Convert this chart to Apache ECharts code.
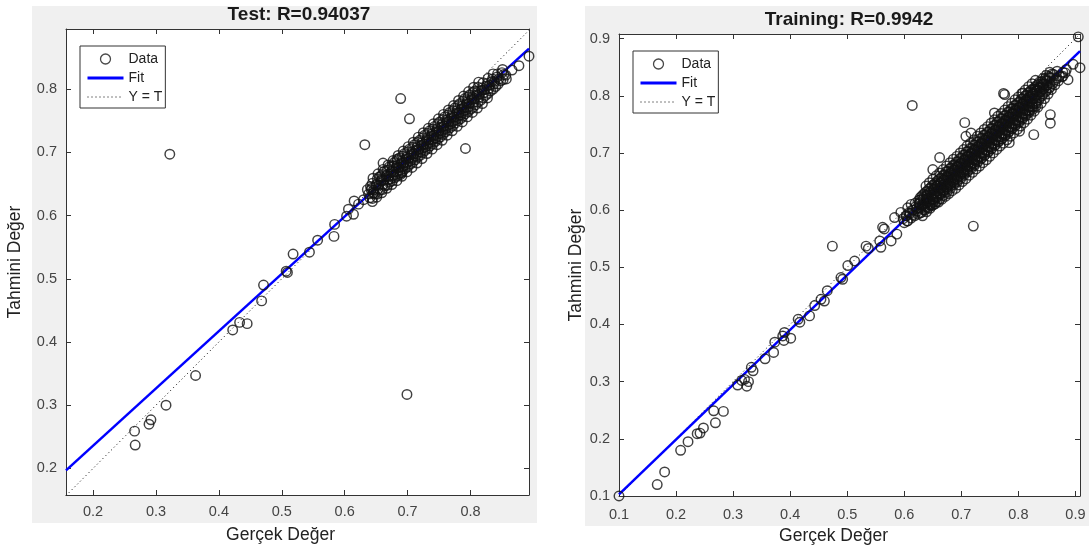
<!DOCTYPE html>
<html><head><meta charset="utf-8">
<script src="https://cdn.jsdelivr.net/npm/echarts@6/dist/echarts.min.js"></script>
<style>html,body{margin:0;padding:0;background:#fff}#c{width:1089px;height:550px}</style>
</head><body><div id="c"></div>
<script>
const testTitle = 'Test: R=0.94037';
const trainTitle = 'Training: R=0.9942';
const xName = 'Gerçek Değer';
const yName = 'Tahmini Değer';
const legendNames = ['Data', 'Fit', 'Y = T'];

const testXRange = [0.157, 0.893];
const testYRange = [0.158, 0.895];
const trainXRange = [0.1, 0.908];
const trainYRange = [0.1, 0.908];
const testTicks = [0.2, 0.3, 0.4, 0.5, 0.6, 0.7, 0.8];
const trainTicks = [0.1, 0.2, 0.3, 0.4, 0.5, 0.6, 0.7, 0.8, 0.9];

const testFit = [[0.157, 0.197], [0.893, 0.864]];
const testIdentity = [[0.157, 0.157], [0.893, 0.893]];
const trainFit = [[0.1, 0.103], [0.908, 0.878]];
const trainIdentity = [[0.1, 0.1], [0.908, 0.908]];

const testOutliers = [
[0.195,0.157],[0.266,0.259],[0.267,0.237],[0.289,0.270],[0.292,0.277],[0.316,0.300],[0.322,0.697],[0.363,0.347],
[0.422,0.419],[0.433,0.431],[0.445,0.429],[0.468,0.465],[0.471,0.490],[0.507,0.512],[0.509,0.510],[0.518,0.539],
[0.544,0.542],[0.557,0.561],[0.583,0.567],[0.584,0.586],[0.603,0.599],[0.606,0.610],[0.614,0.602],[0.615,0.623],
[0.622,0.618],[0.630,0.625],[0.636,0.641],[0.641,0.646],[0.646,0.636],[0.661,0.683],[0.632,0.712],[0.689,0.785],
[0.703,0.753],[0.792,0.706],[0.699,0.317],[0.893,0.852],[0.877,0.837],[0.866,0.830],[0.857,0.816],[0.657,0.662],
[0.678,0.678],[0.683,0.689],[0.689,0.665],[0.691,0.668]
];
const testCluster = [
[0.640,0.628],[0.642,0.641],[0.638,0.634],[0.644,0.622],
[0.648,0.634],[0.650,0.648],[0.646,0.640],[0.651,0.629],
[0.656,0.640],[0.658,0.655],[0.654,0.648],[0.659,0.636],[0.655,0.661],
[0.664,0.647],[0.666,0.662],[0.662,0.656],[0.667,0.643],[0.663,0.670],
[0.672,0.653],[0.674,0.669],[0.670,0.662],[0.675,0.649],[0.671,0.677],[0.673,0.658],
[0.680,0.660],[0.682,0.676],[0.678,0.669],[0.683,0.655],[0.679,0.684],[0.681,0.665],
[0.688,0.667],[0.690,0.683],[0.686,0.676],[0.691,0.662],[0.687,0.691],[0.689,0.672],
[0.696,0.674],[0.698,0.690],[0.694,0.684],[0.699,0.669],[0.695,0.698],[0.697,0.680],
[0.704,0.681],[0.706,0.697],[0.702,0.691],[0.707,0.676],[0.703,0.705],[0.705,0.687],
[0.712,0.688],[0.714,0.704],[0.710,0.698],[0.715,0.683],[0.711,0.712],[0.713,0.694],
[0.720,0.695],[0.722,0.711],[0.718,0.705],[0.723,0.690],[0.719,0.719],[0.721,0.701],
[0.728,0.703],[0.730,0.719],[0.726,0.713],[0.731,0.698],[0.727,0.727],[0.729,0.709],
[0.736,0.710],[0.738,0.726],[0.734,0.720],[0.739,0.705],[0.735,0.734],[0.737,0.716],
[0.744,0.717],[0.746,0.733],[0.742,0.727],[0.747,0.712],[0.743,0.741],[0.745,0.723],
[0.752,0.724],[0.754,0.740],[0.750,0.734],[0.755,0.719],[0.751,0.748],[0.753,0.730],
[0.760,0.732],[0.762,0.748],[0.758,0.742],[0.763,0.727],[0.759,0.756],[0.761,0.738],
[0.768,0.739],[0.770,0.755],[0.766,0.749],[0.771,0.734],[0.767,0.763],[0.769,0.745],
[0.776,0.746],[0.778,0.762],[0.774,0.756],[0.779,0.741],[0.775,0.770],[0.777,0.752],
[0.784,0.753],[0.786,0.769],[0.782,0.763],[0.787,0.748],[0.783,0.777],[0.785,0.759],
[0.792,0.761],[0.794,0.777],[0.790,0.771],[0.795,0.756],[0.791,0.785],[0.793,0.767],
[0.800,0.768],[0.802,0.784],[0.798,0.778],[0.803,0.763],[0.799,0.791],
[0.808,0.775],[0.810,0.791],[0.806,0.785],[0.811,0.770],[0.807,0.797],
[0.816,0.782],[0.818,0.798],[0.814,0.792],[0.819,0.777],
[0.824,0.790],[0.826,0.805],[0.822,0.799],[0.827,0.786],
[0.832,0.797],[0.834,0.812],[0.830,0.806],
[0.840,0.804],[0.842,0.819],[0.838,0.812],
[0.848,0.813],[0.850,0.826],[0.856,0.822]
];
const testCluster2 = [
[0.644,0.627],[0.645,0.635],[0.643,0.643],[0.644,0.651],[0.645,0.659],
[0.652,0.634],[0.653,0.642],[0.651,0.650],[0.652,0.658],[0.653,0.666],
[0.660,0.641],[0.661,0.649],[0.659,0.657],[0.660,0.665],[0.661,0.673],
[0.668,0.648],[0.669,0.656],[0.667,0.664],[0.668,0.672],[0.669,0.680],
[0.676,0.655],[0.677,0.663],[0.675,0.671],[0.676,0.679],[0.677,0.687],
[0.684,0.663],[0.685,0.671],[0.683,0.679],[0.684,0.687],[0.685,0.695],
[0.692,0.670],[0.693,0.678],[0.691,0.686],[0.692,0.694],[0.693,0.702],
[0.700,0.677],[0.701,0.685],[0.699,0.693],[0.700,0.701],[0.701,0.709],
[0.708,0.684],[0.709,0.692],[0.707,0.700],[0.708,0.708],[0.709,0.716],
[0.716,0.692],[0.717,0.700],[0.715,0.708],[0.716,0.716],[0.717,0.724],
[0.724,0.699],[0.725,0.707],[0.723,0.715],[0.724,0.723],[0.725,0.731],
[0.732,0.706],[0.733,0.714],[0.731,0.722],[0.732,0.730],[0.733,0.738],
[0.740,0.713],[0.741,0.721],[0.739,0.729],[0.740,0.737],[0.741,0.745],
[0.748,0.721],[0.749,0.729],[0.747,0.737],[0.748,0.745],[0.749,0.753],
[0.756,0.728],[0.757,0.736],[0.755,0.744],[0.756,0.752],[0.757,0.760],
[0.764,0.735],[0.765,0.743],[0.763,0.751],[0.764,0.759],[0.765,0.767],
[0.772,0.742],[0.773,0.750],[0.771,0.758],[0.772,0.766],[0.773,0.774],
[0.780,0.750],[0.781,0.758],[0.779,0.766],[0.780,0.774],[0.781,0.782],
[0.788,0.757],[0.789,0.765],[0.787,0.773],[0.788,0.781],[0.789,0.789],
[0.796,0.764],[0.797,0.772],[0.795,0.780],[0.796,0.788],[0.797,0.796],
[0.804,0.771],[0.805,0.779],[0.803,0.787],[0.804,0.795],[0.805,0.803],
[0.812,0.779],[0.813,0.787],[0.811,0.795],[0.812,0.803],[0.813,0.811],
[0.820,0.786],[0.821,0.794],[0.819,0.802],[0.820,0.810],
[0.828,0.793],[0.829,0.801],[0.827,0.809],[0.828,0.817],
[0.836,0.800],[0.837,0.808],[0.835,0.816],[0.836,0.824],
[0.844,0.808],[0.845,0.816],[0.843,0.824],
[0.852,0.815],[0.853,0.823],[0.851,0.831]
];

const trainSparse = [
[0.100,0.100],[0.167,0.120],[0.180,0.142],[0.208,0.180],[0.221,0.195],[0.237,0.209],[0.242,0.210],[0.248,0.219],
[0.269,0.228],[0.266,0.249],[0.283,0.248],[0.308,0.294],[0.324,0.292],[0.315,0.302],[0.327,0.300],[0.320,0.304],
[0.335,0.319],[0.332,0.325],[0.356,0.340],[0.371,0.351],[0.373,0.369],[0.387,0.380],[0.389,0.372],[0.401,0.376],
[0.390,0.386],[0.417,0.404],[0.414,0.409],[0.434,0.415],[0.443,0.433],[0.454,0.444],[0.460,0.441],[0.465,0.459],
[0.474,0.537],[0.489,0.482],[0.492,0.479],[0.501,0.503],[0.513,0.511],[0.533,0.537],[0.537,0.533],[0.557,0.546],
[0.559,0.535],[0.577,0.546],[0.587,0.558],[0.565,0.567],[0.562,0.570],[0.583,0.587],[0.594,0.596],[0.606,0.604],
[0.612,0.610],[0.605,0.581],[0.632,0.590],[0.662,0.692],[0.650,0.671],[0.721,0.572],[0.614,0.783],[0.706,0.753],
[0.708,0.729],[0.717,0.735],[0.758,0.770],[0.776,0.802],[0.784,0.718],[0.802,0.738],[0.827,0.732],[0.856,0.767],
[0.856,0.752],[0.896,0.855],[0.908,0.849],[0.905,0.903],[0.887,0.828],[0.878,0.834],[0.867,0.831],[0.808,0.805],
[0.829,0.811],[0.774,0.804]
];
const trainBand = [
[0.600,0.578],[0.603,0.590],[0.598,0.585],
[0.606,0.581],[0.608,0.595],[0.604,0.590],
[0.612,0.586],[0.614,0.600],[0.610,0.594],[0.615,0.592],
[0.618,0.590],[0.620,0.606],[0.616,0.600],[0.619,0.612],
[0.624,0.593],[0.626,0.611],[0.622,0.603],[0.625,0.617],[0.623,0.598],
[0.630,0.596],[0.632,0.608],[0.628,0.618],[0.631,0.625],[0.629,0.603],
[0.636,0.600],[0.638,0.612],[0.634,0.622],[0.637,0.631],[0.635,0.607],[0.639,0.619],
[0.642,0.604],[0.644,0.615],[0.640,0.627],[0.643,0.637],[0.641,0.621],[0.645,0.609],
[0.648,0.608],[0.650,0.620],[0.646,0.632],[0.649,0.643],[0.647,0.626],[0.651,0.614],
[0.654,0.611],[0.656,0.624],[0.652,0.636],[0.655,0.648],[0.653,0.630],[0.657,0.642],[0.651,0.619],
[0.660,0.614],[0.662,0.628],[0.658,0.642],[0.661,0.654],[0.659,0.634],[0.663,0.647],[0.657,0.622],[0.664,0.638],
[0.666,0.619],[0.668,0.633],[0.664,0.648],[0.667,0.660],[0.665,0.640],[0.669,0.652],[0.663,0.627],
[0.672,0.624],[0.674,0.639],[0.670,0.653],[0.673,0.667],[0.671,0.646],[0.675,0.658],[0.669,0.632],[0.676,0.644],
[0.678,0.629],[0.680,0.645],[0.676,0.659],[0.679,0.672],[0.677,0.652],[0.681,0.664],[0.675,0.637],
[0.684,0.634],[0.686,0.650],[0.682,0.665],[0.685,0.678],[0.683,0.657],[0.687,0.670],[0.681,0.642],[0.688,0.656],
[0.690,0.638],[0.692,0.655],[0.688,0.670],[0.691,0.684],[0.689,0.662],[0.693,0.676],[0.687,0.647],
[0.696,0.644],[0.698,0.661],[0.694,0.676],[0.697,0.690],[0.695,0.668],[0.699,0.682],[0.693,0.652],[0.700,0.667],
[0.702,0.650],[0.704,0.667],[0.700,0.682],[0.703,0.696],[0.701,0.674],[0.705,0.688],[0.699,0.658],
[0.708,0.655],[0.710,0.672],[0.706,0.688],[0.709,0.702],[0.707,0.680],[0.711,0.694],[0.705,0.664],[0.712,0.679],
[0.714,0.661],[0.716,0.678],[0.712,0.694],[0.715,0.708],[0.713,0.686],[0.717,0.700],[0.711,0.669],
[0.720,0.666],[0.722,0.683],[0.718,0.699],[0.721,0.714],[0.719,0.691],[0.723,0.706],[0.717,0.675],[0.724,0.690],
[0.726,0.672],[0.728,0.689],[0.724,0.705],[0.727,0.719],[0.725,0.697],[0.729,0.711],[0.723,0.680],
[0.732,0.677],[0.734,0.694],[0.730,0.711],[0.733,0.725],[0.731,0.703],[0.735,0.717],[0.729,0.686],[0.736,0.701],
[0.738,0.683],[0.740,0.700],[0.736,0.717],[0.739,0.731],[0.737,0.709],[0.741,0.723],[0.735,0.691],
[0.744,0.688],[0.746,0.705],[0.742,0.722],[0.745,0.736],[0.743,0.714],[0.747,0.728],[0.741,0.696],[0.748,0.712],
[0.750,0.694],[0.752,0.711],[0.748,0.728],[0.751,0.742],[0.749,0.720],[0.753,0.734],[0.747,0.702],
[0.756,0.700],[0.758,0.717],[0.754,0.734],[0.757,0.748],[0.755,0.726],[0.759,0.740],[0.753,0.708],[0.760,0.723],
[0.762,0.706],[0.764,0.723],[0.760,0.740],[0.763,0.754],[0.761,0.732],[0.765,0.746],[0.759,0.714],
[0.768,0.712],[0.770,0.729],[0.766,0.746],[0.769,0.760],[0.767,0.738],[0.771,0.752],[0.765,0.720],[0.772,0.735],
[0.774,0.717],[0.776,0.734],[0.772,0.751],[0.775,0.765],[0.773,0.743],[0.777,0.757],[0.771,0.725],
[0.780,0.723],[0.782,0.740],[0.778,0.757],[0.781,0.771],[0.779,0.749],[0.783,0.763],[0.777,0.731],[0.784,0.746],
[0.786,0.729],[0.788,0.746],[0.784,0.763],[0.787,0.777],[0.785,0.755],[0.789,0.769],[0.783,0.737],
[0.792,0.735],[0.794,0.752],[0.790,0.769],[0.793,0.783],[0.791,0.761],[0.795,0.775],[0.789,0.743],[0.796,0.758],
[0.798,0.741],[0.800,0.757],[0.796,0.774],[0.799,0.788],[0.797,0.766],[0.801,0.780],[0.795,0.749],
[0.804,0.747],[0.806,0.763],[0.802,0.780],[0.805,0.794],[0.803,0.772],[0.807,0.786],[0.801,0.755],[0.808,0.769],
[0.810,0.753],[0.812,0.769],[0.808,0.786],[0.811,0.799],[0.809,0.778],[0.813,0.792],[0.807,0.761],
[0.816,0.759],[0.818,0.775],[0.814,0.792],[0.817,0.805],[0.815,0.784],[0.819,0.797],[0.813,0.767],[0.820,0.781],
[0.822,0.766],[0.824,0.781],[0.820,0.797],[0.823,0.810],[0.821,0.790],[0.825,0.803],[0.819,0.774],
[0.828,0.773],[0.830,0.787],[0.826,0.802],[0.829,0.815],[0.827,0.795],[0.831,0.808],[0.825,0.780],
[0.834,0.780],[0.836,0.793],[0.832,0.808],[0.835,0.820],[0.833,0.801],[0.837,0.814],[0.831,0.787],
[0.840,0.787],[0.842,0.800],[0.838,0.814],[0.841,0.825],[0.839,0.807],[0.843,0.819],
[0.846,0.795],[0.848,0.807],[0.844,0.820],[0.847,0.830],[0.845,0.813],
[0.852,0.803],[0.854,0.814],[0.850,0.826],[0.853,0.834],[0.851,0.819],
[0.858,0.811],[0.860,0.821],[0.856,0.831],[0.859,0.838],
[0.864,0.819],[0.866,0.828],[0.862,0.837],
[0.870,0.826],[0.872,0.835],[0.868,0.843],
[0.876,0.833],[0.878,0.841],
[0.882,0.840],[0.884,0.846]
];
const trainBand2 = [
[0.628,0.595],[0.626,0.604],[0.627,0.613],[0.628,0.622],
[0.634,0.601],[0.632,0.610],[0.633,0.619],[0.634,0.628],
[0.639,0.597],[0.640,0.606],[0.638,0.615],[0.639,0.624],[0.640,0.633],[0.638,0.642],
[0.645,0.603],[0.646,0.612],[0.644,0.621],[0.645,0.630],[0.646,0.639],[0.644,0.648],
[0.651,0.609],[0.652,0.618],[0.650,0.627],[0.651,0.636],[0.652,0.645],[0.650,0.654],
[0.657,0.615],[0.658,0.624],[0.656,0.633],[0.657,0.642],[0.658,0.651],[0.656,0.660],
[0.663,0.620],[0.664,0.629],[0.662,0.638],[0.663,0.647],[0.664,0.656],[0.662,0.665],
[0.669,0.626],[0.670,0.635],[0.668,0.644],[0.669,0.653],[0.670,0.662],[0.668,0.671],
[0.675,0.632],[0.676,0.641],[0.674,0.650],[0.675,0.659],[0.676,0.668],[0.674,0.677],
[0.681,0.638],[0.682,0.647],[0.680,0.656],[0.681,0.665],[0.682,0.674],[0.680,0.683],
[0.687,0.644],[0.688,0.653],[0.686,0.662],[0.687,0.671],[0.688,0.680],[0.686,0.689],
[0.693,0.649],[0.694,0.658],[0.692,0.667],[0.693,0.676],[0.694,0.685],[0.692,0.694],
[0.699,0.655],[0.700,0.664],[0.698,0.673],[0.699,0.682],[0.700,0.691],[0.698,0.700],
[0.705,0.661],[0.706,0.670],[0.704,0.679],[0.705,0.688],[0.706,0.697],[0.704,0.706],
[0.711,0.667],[0.712,0.676],[0.710,0.685],[0.711,0.694],[0.712,0.703],[0.710,0.712],
[0.717,0.672],[0.718,0.681],[0.716,0.690],[0.717,0.699],[0.718,0.708],[0.716,0.717],
[0.723,0.678],[0.724,0.687],[0.722,0.696],[0.723,0.705],[0.724,0.714],[0.722,0.723],
[0.729,0.684],[0.730,0.693],[0.728,0.702],[0.729,0.711],[0.730,0.720],[0.728,0.729],
[0.735,0.690],[0.736,0.699],[0.734,0.708],[0.735,0.717],[0.736,0.726],[0.734,0.735],
[0.741,0.696],[0.742,0.705],[0.740,0.714],[0.741,0.723],[0.742,0.732],[0.740,0.741],
[0.747,0.701],[0.748,0.710],[0.746,0.719],[0.747,0.728],[0.748,0.737],[0.746,0.746],
[0.753,0.707],[0.754,0.716],[0.752,0.725],[0.753,0.734],[0.754,0.743],[0.752,0.752],
[0.759,0.713],[0.760,0.722],[0.758,0.731],[0.759,0.740],[0.760,0.749],[0.758,0.758],
[0.765,0.719],[0.766,0.728],[0.764,0.737],[0.765,0.746],[0.766,0.755],[0.764,0.764],
[0.771,0.724],[0.772,0.733],[0.770,0.742],[0.771,0.751],[0.772,0.760],[0.770,0.769],
[0.777,0.730],[0.778,0.739],[0.776,0.748],[0.777,0.757],[0.778,0.766],[0.776,0.775],
[0.783,0.736],[0.784,0.745],[0.782,0.754],[0.783,0.763],[0.784,0.772],[0.782,0.781],
[0.789,0.742],[0.790,0.751],[0.788,0.760],[0.789,0.769],[0.790,0.778],[0.788,0.787],
[0.795,0.748],[0.796,0.757],[0.794,0.766],[0.795,0.775],[0.796,0.784],[0.794,0.793],
[0.801,0.753],[0.802,0.762],[0.800,0.771],[0.801,0.780],[0.802,0.789],[0.800,0.798],
[0.807,0.759],[0.808,0.768],[0.806,0.777],[0.807,0.786],[0.808,0.795],[0.806,0.804],
[0.813,0.765],[0.814,0.774],[0.812,0.783],[0.813,0.792],[0.814,0.801],[0.812,0.810],
[0.819,0.771],[0.820,0.780],[0.818,0.789],[0.819,0.798],[0.820,0.807],[0.818,0.816],
[0.825,0.776],[0.826,0.785],[0.824,0.794],[0.825,0.803],[0.826,0.812],[0.824,0.821],
[0.831,0.782],[0.832,0.791],[0.830,0.800],[0.831,0.809],[0.832,0.818],[0.830,0.827],
[0.837,0.797],[0.838,0.806],[0.836,0.815],[0.837,0.824],
[0.843,0.803],[0.844,0.812],[0.842,0.821],[0.843,0.830],
[0.849,0.809],[0.850,0.818],[0.848,0.827],[0.849,0.836],
[0.855,0.814],[0.856,0.823],[0.854,0.832],[0.855,0.841]
];

const FONT = '"Liberation Sans", Arial, Helvetica, sans-serif';
const AX = '#333';
const LAB = '#444';

function xAxes(g, rng, ticks, margin, namePad) {
  const base = {
    type: 'value', gridIndex: g, min: rng[0], max: rng[1], scale: true,
    splitLine: { show: false },
    axisLine: { onZero: false, lineStyle: { color: AX, width: 1 } },
    axisTick: { inside: true, length: 5, customValues: ticks, lineStyle: { color: AX } }
  };
  return [
    Object.assign({}, base, {
      position: 'bottom',
      axisLabel: { customValues: ticks, formatter: v => v.toFixed(1), color: LAB, fontSize: 14.5, fontFamily: FONT, margin: margin },
      name: xName, nameLocation: 'middle', nameGap: 31,
      nameTextStyle: { color: '#222', fontSize: 17.5, fontFamily: FONT, padding: namePad }
    }),
    Object.assign({}, base, { position: 'top', axisLabel: { show: false } })
  ];
}
function yAxes(g, rng, ticks, margin, nameGap) {
  const base = {
    type: 'value', gridIndex: g, min: rng[0], max: rng[1], scale: true,
    splitLine: { show: false },
    axisLine: { onZero: false, lineStyle: { color: AX, width: 1 } },
    axisTick: { inside: true, length: 5, customValues: ticks, lineStyle: { color: AX } }
  };
  return [
    Object.assign({}, base, {
      position: 'left',
      axisLabel: { customValues: ticks, formatter: v => v.toFixed(1), color: LAB, fontSize: 14.5, fontFamily: FONT, margin: margin },
      name: yName, nameLocation: 'middle', nameGap: nameGap,
      nameTextStyle: { color: '#222', fontSize: 17.5, fontFamily: FONT }
    }),
    Object.assign({}, base, { position: 'right', axisLabel: { show: false } })
  ];
}

const circleStyle = { color: 'rgba(0,0,0,0)', borderColor: '#111', borderWidth: 1.45 };

function seriesFor(xi, yi, points, fit, ident) {
  return [
    { type: 'line', name: 'Y = T', xAxisIndex: xi, yAxisIndex: yi, data: ident, symbol: 'none',
      lineStyle: { color: '#000', width: 1, type: [1, 3] }, itemStyle: { color: '#000' }, z: 2, silent: true },
    { type: 'line', name: 'Fit', xAxisIndex: xi, yAxisIndex: yi, data: fit, symbol: 'none',
      lineStyle: { color: '#0000ff', width: 2.5 }, itemStyle: { color: '#0000ff' }, z: 2, silent: true },
    { type: 'scatter', name: 'Data', xAxisIndex: xi, yAxisIndex: yi, data: points, symbol: 'circle', symbolSize: 9.5,
      itemStyle: circleStyle, z: 3, silent: true }
  ];
}

function legendAt(left, top) {
  return {
    left: left, top: top, orient: 'vertical', selectedMode: false,
    data: [
      { name: legendNames[0], itemStyle: { color: 'rgba(0,0,0,0)', borderColor: '#1a1a1a', borderWidth: 1.3 } },
      { name: legendNames[1], itemStyle: { opacity: 0 }, lineStyle: { width: 3, color: '#0000ff' } },
      { name: legendNames[2], itemStyle: { opacity: 0 }, lineStyle: { width: 1, color: '#000', type: [1, 3] } }
    ],
    itemWidth: 36, itemHeight: 10, itemGap: 3, padding: [5, 3, 3, 6],
    borderColor: '#333', borderWidth: 1, backgroundColor: '#fff',
    textStyle: { fontSize: 14, color: '#222', fontFamily: FONT, lineHeight: 16 }
  };
}

const chart = echarts.init(document.getElementById('c'), null, { renderer: 'canvas' });
chart.setOption({
  animation: false,
  backgroundColor: '#fff',
  graphic: [
    { type: 'rect', z: -10, shape: { x: 32, y: 6, width: 505, height: 517 }, style: { fill: '#f0f0f0' } },
    { type: 'rect', z: -10, shape: { x: 585, y: 6, width: 504, height: 520 }, style: { fill: '#f0f0f0' } }
  ],
  title: [
    { text: testTitle, left: 299, top: 5, padding: 0, textAlign: 'center',
      textStyle: { fontSize: 19, fontWeight: 'bold', color: '#1a1a1a', fontFamily: FONT } },
    { text: trainTitle, left: 849, top: 10, padding: 0, textAlign: 'center',
      textStyle: { fontSize: 19, fontWeight: 'bold', color: '#1a1a1a', fontFamily: FONT } }
  ],
  legend: [legendAt(80, 46), legendAt(633, 51)],
  grid: [
    { left: 66, top: 29, width: 463, height: 466, show: true, backgroundColor: '#fff', borderWidth: 0 },
    { left: 619, top: 34, width: 461, height: 463, show: true, backgroundColor: '#fff', borderWidth: 0 }
  ],
  xAxis: [].concat(xAxes(0, testXRange, testTicks, 9, [0, 34, 0, 0]), xAxes(1, trainXRange, trainTicks, 11, [0, 32, 0, 0])),
  yAxis: [].concat(yAxes(0, testYRange, testTicks, 9, 42), yAxes(1, trainYRange, trainTicks, 9, 34)),
  series: [].concat(
    seriesFor(0, 0, testOutliers.concat(testCluster, testCluster2), testFit, testIdentity),
    seriesFor(2, 2, trainSparse.concat(trainBand, trainBand2), trainFit, trainIdentity)
  )
});
</script></body></html>
